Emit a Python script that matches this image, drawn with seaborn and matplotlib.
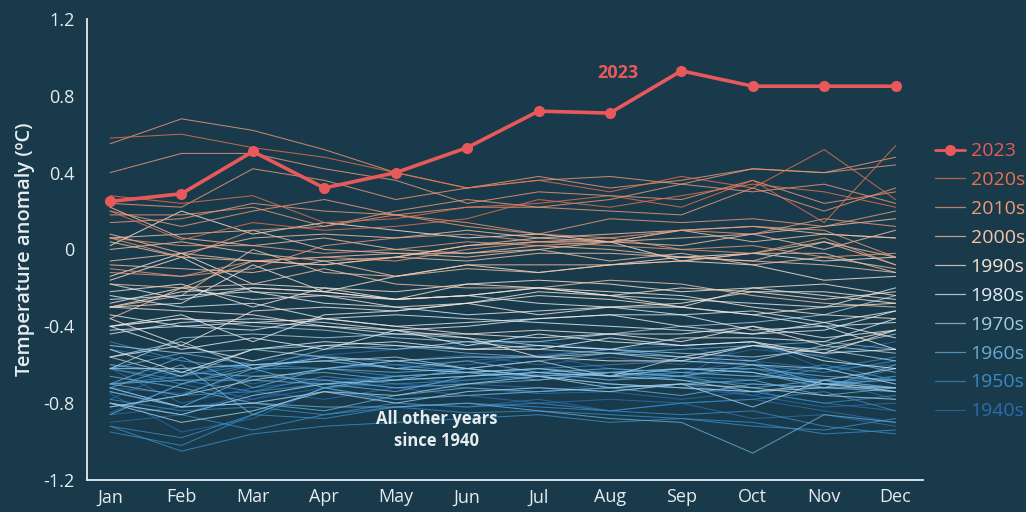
import numpy as np
import pandas as pd
import matplotlib
matplotlib.use("Agg")
import matplotlib.pyplot as plt
from matplotlib.lines import Line2D
from matplotlib.ticker import MultipleLocator, FuncFormatter
import seaborn as sns

months = ["Jan", "Feb", "Mar", "Apr", "May", "Jun", "Jul", "Aug", "Sep", "Oct", "Nov", "Dec"]

# monthly global temperature anomalies (ºC)
y2023 = [0.25, 0.29, 0.51, 0.32, 0.40, 0.53, 0.72, 0.71, 0.93, 0.85, 0.85, 0.85]

y1940s = [
    [-0.78, -0.62, -0.70, -0.62, -0.58, -0.55, -0.60, -0.56, -0.60, -0.52, -0.55, -0.48],
    [-0.52, -0.58, -0.62, -0.55, -0.60, -0.58, -0.55, -0.62, -0.66, -0.48, -0.62, -0.60],
    [-0.62, -0.80, -0.72, -0.68, -0.66, -0.70, -0.72, -0.74, -0.70, -0.76, -0.68, -0.72],
    [-0.85, -0.70, -0.78, -0.68, -0.72, -0.68, -0.65, -0.68, -0.64, -0.58, -0.72, -0.62],
    [-0.60, -0.66, -0.58, -0.55, -0.52, -0.50, -0.48, -0.52, -0.50, -0.58, -0.62, -0.70],
    [-0.72, -0.75, -0.64, -0.56, -0.62, -0.60, -0.55, -0.52, -0.56, -0.60, -0.68, -0.78],
    [-0.72, -0.82, -0.78, -0.72, -0.80, -0.82, -0.78, -0.84, -0.80, -0.88, -0.86, -0.92],
    [-0.90, -0.86, -0.74, -0.78, -0.72, -0.76, -0.74, -0.70, -0.72, -0.76, -0.82, -0.80],
    [-0.75, -0.95, -0.88, -0.72, -0.70, -0.72, -0.75, -0.74, -0.78, -0.74, -0.80, -0.84],
    [-0.86, -0.82, -0.80, -0.74, -0.78, -0.76, -0.80, -0.78, -0.80, -0.78, -0.84, -0.90],
]
y1950s = [
    [-0.92, -0.98, -0.86, -0.88, -0.82, -0.85, -0.84, -0.86, -0.88, -0.90, -0.96, -0.94],
    [-0.95, -1.02, -0.86, -0.72, -0.68, -0.66, -0.62, -0.60, -0.58, -0.60, -0.64, -0.58],
    [-0.62, -0.68, -0.74, -0.66, -0.70, -0.68, -0.66, -0.70, -0.72, -0.74, -0.80, -0.76],
    [-0.70, -0.66, -0.60, -0.58, -0.62, -0.64, -0.66, -0.64, -0.66, -0.62, -0.70, -0.66],
    [-0.78, -0.84, -0.82, -0.86, -0.80, -0.82, -0.80, -0.84, -0.80, -0.78, -0.74, -0.84],
    [-0.80, -0.86, -0.94, -0.86, -0.82, -0.80, -0.82, -0.84, -0.86, -0.84, -0.92, -0.96],
    [-0.92, -1.05, -0.96, -0.92, -0.90, -0.88, -0.86, -0.90, -0.88, -0.92, -0.94, -0.88],
    [-0.82, -0.76, -0.74, -0.70, -0.66, -0.64, -0.66, -0.64, -0.66, -0.68, -0.62, -0.56],
    [-0.48, -0.58, -0.62, -0.62, -0.60, -0.64, -0.62, -0.66, -0.64, -0.66, -0.60, -0.68],
    [-0.62, -0.70, -0.60, -0.62, -0.66, -0.64, -0.62, -0.64, -0.68, -0.70, -0.72, -0.66],
]
y1960s = [
    [-0.72, -0.60, -0.86, -0.72, -0.66, -0.64, -0.68, -0.64, -0.62, -0.64, -0.72, -0.60],
    [-0.62, -0.54, -0.60, -0.58, -0.62, -0.58, -0.64, -0.62, -0.64, -0.66, -0.68, -0.74],
    [-0.60, -0.64, -0.66, -0.64, -0.68, -0.62, -0.66, -0.64, -0.62, -0.62, -0.66, -0.68],
    [-0.70, -0.56, -0.72, -0.62, -0.64, -0.62, -0.58, -0.54, -0.52, -0.50, -0.56, -0.64],
    [-0.66, -0.72, -0.80, -0.82, -0.82, -0.80, -0.84, -0.88, -0.90, -1.06, -0.86, -0.90],
    [-0.74, -0.82, -0.80, -0.84, -0.76, -0.72, -0.74, -0.72, -0.70, -0.68, -0.76, -0.72],
    [-0.70, -0.68, -0.68, -0.70, -0.74, -0.66, -0.64, -0.68, -0.66, -0.72, -0.68, -0.72],
    [-0.74, -0.82, -0.66, -0.68, -0.72, -0.70, -0.68, -0.64, -0.66, -0.60, -0.70, -0.68],
    [-0.86, -0.70, -0.62, -0.72, -0.78, -0.76, -0.74, -0.72, -0.76, -0.70, -0.72, -0.74],
    [-0.70, -0.76, -0.62, -0.52, -0.50, -0.54, -0.56, -0.52, -0.56, -0.50, -0.48, -0.52],
]
y1970s = [
    [-0.56, -0.48, -0.62, -0.56, -0.62, -0.64, -0.62, -0.66, -0.62, -0.64, -0.70, -0.74],
    [-0.72, -0.82, -0.80, -0.74, -0.76, -0.70, -0.66, -0.70, -0.72, -0.74, -0.70, -0.72],
    [-0.82, -0.76, -0.68, -0.62, -0.58, -0.56, -0.56, -0.54, -0.56, -0.50, -0.52, -0.44],
    [-0.40, -0.36, -0.40, -0.42, -0.46, -0.48, -0.52, -0.54, -0.58, -0.60, -0.62, -0.70],
    [-0.80, -0.86, -0.76, -0.70, -0.68, -0.66, -0.64, -0.66, -0.68, -0.74, -0.72, -0.72],
    [-0.62, -0.62, -0.60, -0.58, -0.56, -0.62, -0.66, -0.72, -0.70, -0.72, -0.76, -0.78],
    [-0.80, -0.90, -0.84, -0.74, -0.80, -0.74, -0.72, -0.74, -0.70, -0.82, -0.68, -0.62],
    [-0.62, -0.46, -0.44, -0.46, -0.44, -0.46, -0.50, -0.52, -0.54, -0.56, -0.52, -0.58],
    [-0.50, -0.54, -0.52, -0.56, -0.58, -0.62, -0.58, -0.66, -0.56, -0.58, -0.50, -0.54],
    [-0.56, -0.66, -0.52, -0.50, -0.52, -0.48, -0.48, -0.44, -0.40, -0.38, -0.34, -0.24],
]
y1980s = [
    [-0.34, -0.40, -0.42, -0.36, -0.34, -0.36, -0.38, -0.40, -0.42, -0.44, -0.38, -0.46],
    [-0.24, -0.30, -0.28, -0.36, -0.40, -0.38, -0.36, -0.34, -0.40, -0.44, -0.42, -0.32],
    [-0.56, -0.50, -0.58, -0.50, -0.48, -0.52, -0.50, -0.52, -0.46, -0.46, -0.48, -0.36],
    [-0.26, -0.24, -0.22, -0.28, -0.30, -0.34, -0.32, -0.30, -0.34, -0.42, -0.40, -0.52],
    [-0.40, -0.52, -0.46, -0.52, -0.42, -0.50, -0.44, -0.48, -0.50, -0.48, -0.58, -0.62],
    [-0.52, -0.64, -0.52, -0.48, -0.50, -0.52, -0.52, -0.46, -0.50, -0.48, -0.54, -0.52],
    [-0.42, -0.40, -0.38, -0.40, -0.44, -0.44, -0.46, -0.44, -0.44, -0.40, -0.46, -0.42],
    [-0.40, -0.34, -0.48, -0.34, -0.32, -0.28, -0.22, -0.24, -0.26, -0.28, -0.30, -0.20],
    [-0.18, -0.26, -0.20, -0.22, -0.26, -0.24, -0.28, -0.30, -0.30, -0.34, -0.40, -0.38],
    [-0.44, -0.38, -0.36, -0.38, -0.42, -0.40, -0.36, -0.34, -0.34, -0.32, -0.38, -0.32],
]
y1990s = [
    [-0.30, -0.28, -0.08, -0.22, -0.26, -0.24, -0.20, -0.24, -0.30, -0.20, -0.18, -0.24],
    [-0.22, -0.18, -0.30, -0.20, -0.26, -0.18, -0.20, -0.22, -0.24, -0.30, -0.34, -0.36],
    [-0.30, -0.32, -0.34, -0.40, -0.42, -0.46, -0.56, -0.58, -0.58, -0.50, -0.54, -0.42],
    [-0.40, -0.36, -0.38, -0.36, -0.40, -0.44, -0.42, -0.44, -0.48, -0.40, -0.50, -0.42],
    [-0.36, -0.50, -0.32, -0.30, -0.32, -0.28, -0.34, -0.30, -0.28, -0.22, -0.22, -0.26],
    [-0.14, -0.02, -0.18, -0.20, -0.22, -0.18, -0.16, -0.18, -0.22, -0.20, -0.24, -0.28],
    [-0.28, -0.20, -0.26, -0.24, -0.30, -0.28, -0.24, -0.26, -0.30, -0.34, -0.30, -0.28],
    [-0.30, -0.22, -0.20, -0.22, -0.14, -0.08, -0.12, -0.08, -0.04, -0.02, -0.06, -0.04],
    [0.02, 0.20, 0.08, 0.14, 0.10, 0.06, 0.08, 0.04, -0.06, -0.08, -0.16, -0.14],
    [-0.16, -0.04, -0.22, -0.24, -0.26, -0.24, -0.20, -0.24, -0.20, -0.22, -0.26, -0.22],
]
y2000s = [
    [-0.36, -0.20, -0.18, -0.10, -0.18, -0.20, -0.20, -0.16, -0.18, -0.24, -0.28, -0.30],
    [-0.18, -0.20, -0.06, -0.08, -0.04, -0.06, -0.02, -0.02, -0.04, -0.06, 0.04, -0.04],
    [0.06, 0.08, 0.10, 0.00, -0.02, -0.02, 0.00, -0.06, -0.02, -0.08, -0.04, -0.10],
    [0.04, -0.04, -0.06, -0.04, -0.02, -0.04, 0.00, 0.04, 0.02, 0.08, 0.00, 0.10],
    [0.00, 0.04, -0.02, -0.06, -0.14, -0.10, -0.12, -0.08, -0.06, -0.02, 0.04, -0.08],
    [0.08, -0.02, 0.06, 0.08, 0.06, 0.10, 0.06, 0.04, 0.10, 0.12, 0.08, 0.06],
    [-0.06, -0.02, -0.06, -0.08, -0.04, 0.02, 0.04, 0.04, 0.06, 0.08, 0.12, 0.16],
    [0.22, 0.06, 0.02, 0.06, 0.00, -0.02, 0.02, 0.00, -0.04, -0.06, -0.08, -0.12],
    [-0.30, -0.24, 0.00, -0.12, -0.14, -0.08, -0.08, -0.08, -0.06, -0.02, -0.02, -0.12],
    [-0.08, -0.10, -0.12, -0.06, -0.04, 0.02, 0.06, 0.08, 0.10, 0.04, 0.08, 0.06],
]
y2010s = [
    [0.14, 0.16, 0.24, 0.20, 0.18, 0.12, 0.08, 0.06, 0.00, -0.02, 0.06, -0.08],
    [-0.10, -0.14, -0.06, -0.04, -0.06, 0.00, 0.04, 0.02, 0.00, 0.02, -0.04, -0.02],
    [-0.12, -0.14, -0.10, 0.02, 0.06, 0.08, 0.04, 0.06, 0.10, 0.12, 0.10, -0.04],
    [0.06, 0.02, 0.02, -0.02, 0.00, 0.04, 0.02, 0.04, 0.10, 0.08, 0.16, 0.12],
    [0.06, -0.04, 0.10, 0.12, 0.18, 0.14, 0.08, 0.16, 0.14, 0.16, 0.12, 0.20],
    [0.18, 0.18, 0.22, 0.12, 0.20, 0.26, 0.22, 0.26, 0.34, 0.42, 0.40, 0.48],
    [0.55, 0.68, 0.62, 0.52, 0.40, 0.32, 0.36, 0.38, 0.34, 0.30, 0.34, 0.24],
    [0.40, 0.50, 0.50, 0.42, 0.36, 0.24, 0.30, 0.28, 0.26, 0.36, 0.24, 0.30],
    [0.20, 0.12, 0.20, 0.26, 0.18, 0.22, 0.22, 0.20, 0.18, 0.32, 0.20, 0.32],
    [0.24, 0.22, 0.42, 0.36, 0.26, 0.32, 0.38, 0.32, 0.36, 0.42, 0.40, 0.44],
]
y2020s = [
    [0.58, 0.60, 0.53, 0.48, 0.40, 0.32, 0.36, 0.30, 0.38, 0.32, 0.52, 0.26],
    [0.20, 0.05, 0.14, 0.10, 0.12, 0.16, 0.26, 0.22, 0.28, 0.34, 0.30, 0.22],
    [0.28, 0.24, 0.28, 0.14, 0.16, 0.22, 0.24, 0.28, 0.22, 0.36, 0.14, 0.54],
]

decades = ["1940s", "1950s", "1960s", "1970s", "1980s", "1990s", "2000s", "2010s", "2020s"]
decade_data = [y1940s, y1950s, y1960s, y1970s, y1980s, y1990s, y2000s, y2010s, y2020s]
decade_colors = ["#2a6cad", "#3b8ac3", "#67acd6", "#a6cde3", "#e2ecf3",
                 "#fbe4d6", "#f6c3a6", "#f09a78", "#e8714f"]
red = "#e9595b"
bg = "#183a4a"
fg = "#e6ecef"

# long table for seaborn
rows = []
for dec, start, data in zip(decades, range(1940, 2030, 10), decade_data):
    for k, vals in enumerate(data):
        for m, v in enumerate(vals):
            rows.append({"year": start + k, "decade": dec, "m": m, "anom": v})
df = pd.DataFrame(rows)
pal = {y: decade_colors[decades.index(d)] for y, d in df[["year", "decade"]].drop_duplicates().values}

sns.set_style("white")
plt.rcParams["font.family"] = ["Open Sans", "DejaVu Sans"]

fig = plt.figure(figsize=(10.26, 5.12), dpi=100, facecolor=bg)
ax = fig.add_axes([0.085, 0.0625, 0.815, 0.9005])
ax.set_facecolor(bg)

sns.lineplot(data=df, x="m", y="anom", hue="year", palette=pal, linewidth=0.75,
             alpha=0.8, legend=False, sort=False, ax=ax)
sns.lineplot(x=list(range(12)), y=y2023, color=red, linewidth=2.6, marker="o",
             markersize=8, markeredgewidth=0, ax=ax)

ax.set_xlim(-0.32, 11.39)
ax.set_ylim(-1.2, 1.2)
ax.set_xticks(range(12))
ax.set_xticklabels(months)
ax.yaxis.set_major_locator(MultipleLocator(0.4))
ax.yaxis.set_minor_locator(MultipleLocator(0.2))
ax.yaxis.set_major_formatter(FuncFormatter(lambda v, p: "0" if abs(v) < 1e-9 else f"{v:.1f}"))
ax.tick_params(axis="y", which="both", direction="out", length=5, width=1, color=fg,
               labelcolor=fg, labelsize=13, pad=4)
ax.tick_params(axis="x", length=0, labelcolor=fg, labelsize=13, pad=6)
for s in ["top", "right"]:
    ax.spines[s].set_visible(False)
for s in ["left", "bottom"]:
    ax.spines[s].set_color(fg)
    ax.spines[s].set_linewidth(1.3)
ax.set_xlabel("")
ax.set_ylabel("Temperature anomaly (ºC)", color=fg, fontsize=14.5, fontweight="semibold",
              labelpad=6)

ax.text(7.11, 0.92, "2023", color=red, fontsize=13, fontweight="bold", ha="center", va="center")
ax.text(4.57, -0.94, "All other years\nsince 1940", color=fg, fontsize=12, fontweight="bold",
        ha="center", va="center", linespacing=1.3)

handles = [Line2D([], [], color=red, lw=2, marker="o", markersize=7)]
labels = ["2023"]
for d, c in zip(decades[::-1], decade_colors[::-1]):
    handles.append(Line2D([], [], color=c, lw=0.9, alpha=0.75))
    labels.append(d)
leg = fig.legend(handles, labels, loc="upper left", bbox_to_anchor=(0.911, 0.722),
                 frameon=False, fontsize=14, handlelength=1.55, handletextpad=0.3,
                 labelspacing=0.56, borderpad=0, borderaxespad=0,
                 labelcolor=[red] + decade_colors[::-1])

fig.savefig("out.png", dpi=100, facecolor=bg)
